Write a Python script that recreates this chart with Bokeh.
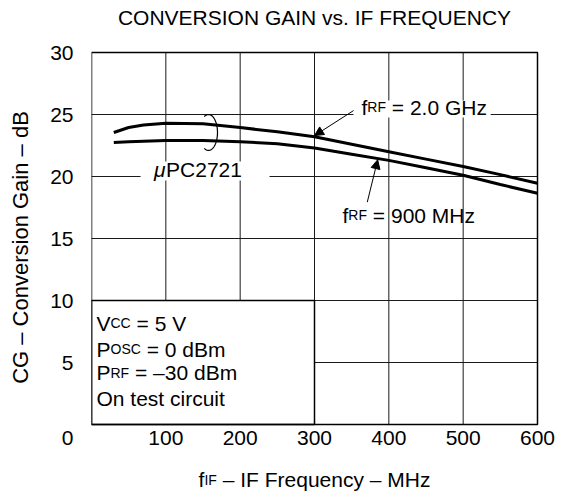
import numpy as np
from bokeh.plotting import figure
from bokeh.models import Range1d, Label, Arrow, NormalHead, FixedTicker
from bokeh.core.properties import value
from bokeh.embed import file_html
from bokeh.resources import INLINE

# ---- data ----
freq_mhz = [30, 50, 70, 100, 150, 200, 250, 300, 350, 400, 450, 500, 550, 600]
cg_2ghz = [23.55, 23.95, 24.15, 24.3, 24.25, 23.95, 23.6, 23.2, 22.6, 22.0, 21.4, 20.8, 20.15, 19.45]
cg_900mhz = [22.75, 22.8, 22.85, 22.9, 22.9, 22.8, 22.65, 22.3, 21.8, 21.3, 20.7, 20.1, 19.35, 18.65]
x_ticks = [100, 200, 300, 400, 500, 600]
x_tick_labels = ["100", "200", "300", "400", "500", "600"]
y_ticks = [5, 10, 15, 20, 25, 30]
x_grid = [100, 200, 300, 400, 500]
y_grid = [5, 10, 15, 20, 25]
x_min, x_max = 0, 600
y_min, y_max = 0, 30

FONT = "Liberation Sans"
BIG = 21
SUB = 14

# Arial/Liberation Sans advance widths (per 1000 em)
W = {' ': 278, '=': 584, '–': 556, '.': 278, 'A': 667, 'B': 667, 'C': 722, 'D': 722,
     'E': 667, 'F': 611, 'G': 778, 'H': 722, 'I': 278, 'M': 833, 'N': 722, 'O': 778,
     'P': 667, 'Q': 778, 'R': 722, 'S': 667, 'U': 722, 'V': 667, 'Y': 667, 'a': 556,
     'c': 500, 'd': 556, 'e': 556, 'f': 278, 'i': 222, 'm': 833, 'n': 556, 'o': 556,
     'q': 556, 'r': 333, 's': 500, 't': 278, 'u': 556, 'v': 500, 'y': 500, 'z': 500,
     'μ': 576}
for d in "0123456789":
    W[d] = 556


def tw(s, size):
    return sum(W.get(ch, 556) for ch in s) * size / 1000.0


# canvas / frame geometry (pixels)
CW, CH = 566, 494
LEFT = 91            # frame left edge = x 0
PW, PH = 446, 372    # plot box size for 0..600 MHz, 0..30 dB
TOP = 52             # plot box top = 30 dB
xs = (x_max - x_min) / PW
ys = (y_max - y_min) / PH
x_range = Range1d(x_min, x_min + (CW - LEFT) * xs)
y_range = Range1d(y_max - (CH - TOP) * ys, y_max + TOP * ys)
BASE_FIX = 7.5 * ys  # baseline correction for alphabetic labels

p = figure(width=CW, height=CH, output_backend="svg", toolbar_location=None,
           x_range=x_range, y_range=y_range, x_axis_location=None,
           min_border_left=LEFT, min_border_right=0, min_border_top=0,
           min_border_bottom=0)
p.background_fill_color = "white"
p.border_fill_color = "white"
p.outline_line_color = None
p.grid.visible = False

ZERO_POS = -1.05
ax = p.yaxis[0]
ax.axis_line_color = None
ax.major_tick_line_color = None
ax.minor_tick_line_color = None
ax.major_tick_out = 0
ax.major_tick_in = 0
ax.ticker = FixedTicker(ticks=[ZERO_POS] + y_ticks)
ax.major_label_overrides = {ZERO_POS: "0"}
ax.major_label_text_font = FONT
ax.major_label_text_font_size = f"{BIG}px"
ax.major_label_text_color = "black"
ax.major_label_standoff = 18
ax.axis_label = "CG – Conversion Gain – dB"
ax.axis_label_text_font = FONT
ax.axis_label_text_font_size = "22px"
ax.axis_label_text_font_style = "normal"
ax.axis_label_text_color = "black"
ax.axis_label_standoff = 14

# grid lines inside the plot box
p.segment(x0=x_grid, y0=[y_min] * len(x_grid), x1=x_grid, y1=[y_max] * len(x_grid),
          line_color="#1a1a1a", line_width=1)
p.segment(x0=[x_min] * len(y_grid), y0=y_grid, x1=[x_max] * len(y_grid), y1=y_grid,
          line_color="#1a1a1a", line_width=1)

# white backgrounds behind labels
p.quad(left=[352.5], right=[537], bottom=[24.76], top=[26.13], fill_color="white", line_color=None)
p.quad(left=[66], right=[239.5], bottom=[19.68], top=[21.21], fill_color="white", line_color=None)
# conditions box
p.quad(left=[0], right=[300], bottom=[0], top=[10], fill_color="white", line_color="black", line_width=1.5)

# curves
p.line(freq_mhz, cg_2ghz, line_color="black", line_width=3)
p.line(freq_mhz, cg_900mhz, line_color="black", line_width=3)

# brace marking the device
t = np.linspace(np.deg2rad(118), np.deg2rad(-118), 60)
p.line(157.4 + 12.1 * np.cos(t), 23.55 + 1.45 * np.sin(t), line_color="black", line_width=1.2)

# plot box border
p.quad(left=[x_min], right=[x_max], bottom=[y_min], top=[y_max], fill_color=None,
       line_color="black", line_width=1.5)

# x tick labels
p.text(x=x_ticks, y=[ZERO_POS] * len(x_ticks), text=x_tick_labels,
       text_font=value(FONT), text_font_size=f"{BIG}px", text_color="black",
       text_align="center", text_baseline="middle")

# arrows
p.add_layout(Arrow(end=NormalHead(size=9, fill_color="black", line_color="black"),
                   x_start=352.6, y_start=25.32, x_end=300, y_end=23.3,
                   line_color="black", line_width=1))
p.add_layout(Arrow(end=NormalHead(size=9, fill_color="black", line_color="black"),
                   x_start=371, y_start=17.93, x_end=385, y_end=21.35,
                   line_color="black", line_width=1))


def rich(x, y, pieces, align="left"):
    """pieces: list of (text, size, style)"""
    total = sum(tw(s, sz) for s, sz, _ in pieces)
    off = 0.0
    if align == "center":
        off = -total / 2.0
    for s, sz, st in pieces:
        stripped = s.lstrip(" ")
        lead = tw(s[:len(s) - len(stripped)], sz)
        p.add_layout(Label(x=x, y=y + BASE_FIX, x_offset=off + lead, text=stripped,
                           text_font=FONT, text_font_size=f"{sz}px", text_font_style=st,
                           text_color="black", text_align="left",
                           text_baseline="alphabetic"))
        off += tw(s, sz)


rich(363.2, 25.0, [("f", BIG, "normal"), ("RF", SUB, "normal"), (" = 2.0 GHz", BIG, "normal")])
rich(337.7, 16.29, [("f", BIG, "normal"), ("RF", SUB, "normal"), (" = 900 MHz", BIG, "normal")])
rich(84.0, 19.92, [("μ", BIG, "italic"), ("PC2721", BIG, "normal")])

rich(6.7, 7.58, [("V", BIG, "normal"), ("CC", SUB, "normal"), (" = 5 V", BIG, "normal")])
rich(6.7, 5.48, [("P", BIG, "normal"), ("OSC", SUB, "normal"), (" = 0 dBm", BIG, "normal")])
rich(6.7, 3.55, [("P", BIG, "normal"), ("RF", SUB, "normal"), (" = –30 dBm", BIG, "normal")])
rich(6.7, 1.53, [("On test circuit", BIG, "normal")])

# x axis title
rich(300, -5.08, [("f", BIG, "normal"), ("IF", SUB, "normal"), (" – IF Frequency – MHz", BIG, "normal")], align="center")

# chart title
rich(300, 32.18, [("CONVERSION GAIN vs. IF FREQUENCY", BIG, "normal")], align="center")

open("out.html", "w").write(file_html(p, INLINE))
